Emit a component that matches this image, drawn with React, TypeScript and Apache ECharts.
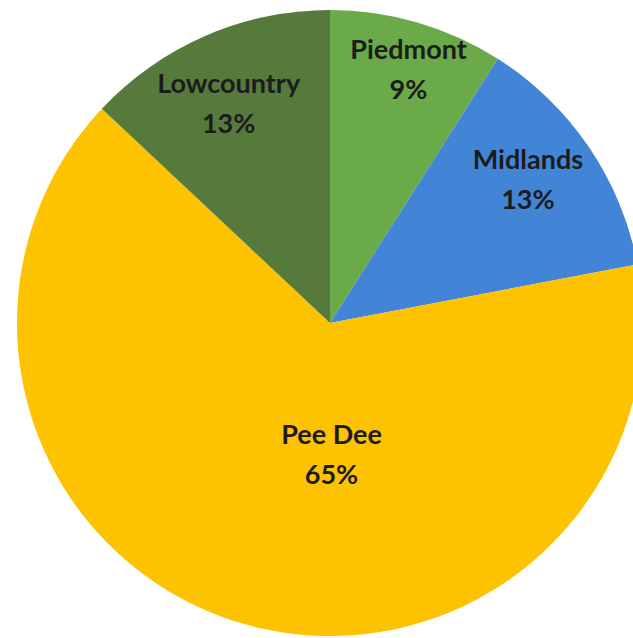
import React, { useEffect, useRef } from "react";
import * as echarts from "echarts";

const regions = ["Piedmont", "Midlands", "Pee Dee", "Lowcountry"];
const shares = [9, 13, 65, 13];
const colors = ["#6aaa48", "#4285d6", "#fec300", "#567a3c"];
// label nudges (px) from the default inside position
const labelDx = [34, 66, 46, -38];
const labelDy = [-101, -55, -23, -74];

export default function App() {
  const ref = useRef<HTMLDivElement>(null);
  useEffect(() => {
    const chart = echarts.init(ref.current!, null, { renderer: "svg" });
    chart.setOption({
      animation: false,
      backgroundColor: "#ffffff",
      series: [
        {
          type: "pie",
          center: [330, 323],
          radius: [0, 313],
          startAngle: 90,
          clockwise: true,
          avoidLabelOverlap: false,
          itemStyle: { borderWidth: 0 },
          label: {
            show: true,
            position: "inside",
            formatter: "{b}\n{d}%",
            fontFamily: "Lato, 'Open Sans', sans-serif",
            fontWeight: "bold",
            fontSize: 27,
            lineHeight: 40,
            color: "#1c1c1c",
          },
          labelLine: { show: false },
          emphasis: { disabled: true },
          data: regions.map((name, i) => ({
            name,
            value: shares[i],
            itemStyle: { color: colors[i] },
          })),
          labelLayout: (params: any) => ({
            dx: labelDx[params.dataIndex],
            dy: labelDy[params.dataIndex],
          }),
        },
      ],
    });
    return () => chart.dispose();
  }, []);
  return (
    <div
      ref={ref}
      style={{ position: "absolute", left: 0, top: 0, width: 633, height: 638 }}
    />
  );
}
